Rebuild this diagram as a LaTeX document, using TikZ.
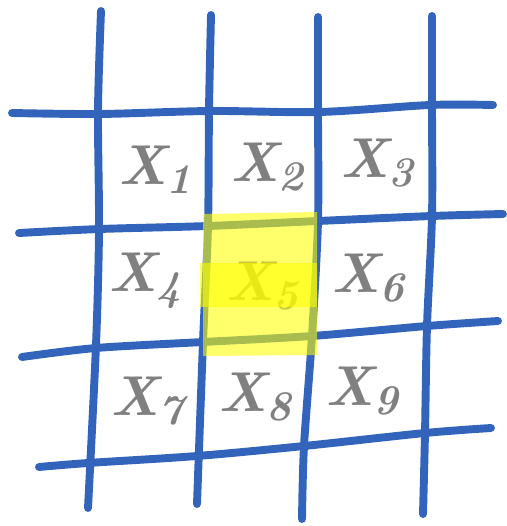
\documentclass[tikz,border=0pt]{standalone}
\usepackage{fontspec}
\usetikzlibrary{calc}
\definecolor{gridBlue}{HTML}{3164BA}
\definecolor{inkGrey}{HTML}{808080}
\definecolor{markYellow}{HTML}{FFFF00}
\tikzset{
  gridline/.style = {gridBlue, line width=4.5pt, line cap=round, line join=round},
  cell/.style     = {inkGrey, font=\fontsize{32}{32}\selectfont\bfseries\itshape},
  marker/.style   = {markYellow, opacity=0.58},
}
\newcommand{\cellsub}[1]{\raisebox{-0.35ex}{\fontsize{24}{24}\selectfont #1}}
\begin{document}
\begin{tikzpicture}[x=0.02cm, y=-0.02cm]
\useasboundingbox (0,0) rectangle (506,526);
% vertical strokes
\draw[gridline] plot[smooth] coordinates {(101,11) (98,110) (99,230) (96,345) (88,508)};
\draw[gridline] plot[smooth] coordinates {(211,15) (209,110) (208,226) (203,342) (197,504)};
\draw[gridline] plot[smooth] coordinates {(318,17) (318,112) (318,221) (312,336) (304,446) (302,519)};
\draw[gridline] plot[smooth] coordinates {(432,16) (432,105) (432,216) (427,326) (425,433) (423,514)};
% horizontal strokes
\draw[gridline] plot[smooth] coordinates {(12,113) (100,114) (210,111) (320,112) (430,105) (493,105)};
\draw[gridline] plot[smooth] coordinates {(19,233) (100,229) (208,226) (318,221) (432,216) (503,214)};
\draw[gridline] plot[smooth] coordinates {(22,357) (96,348) (203,342) (312,336) (427,326) (498,321)};
\draw[gridline] plot[smooth] coordinates {(39,467) (88,463) (197,456) (304,446) (425,433) (491,428)};
% cell labels
\node[cell] (x1) at (155,170) {X\cellsub{1}};
\node[cell] (x2) at (267,167) {X\cellsub{2}};
\node[cell] (x3) at (377,163) {X\cellsub{3}};
\node[cell] (x4) at (145,281) {X\cellsub{4}};
\node[cell] (x5) at (262,286) {X\cellsub{5}};
\node[cell] (x6) at (368,278) {X\cellsub{6}};
\node[cell] (x7) at (147,401) {X\cellsub{7}};
\node[cell] (x8) at (255,397) {X\cellsub{8}};
\node[cell] (x9) at (362,391) {X\cellsub{9}};
% highlighter over the middle cell
\fill[marker] (203,214) -- (317,212) -- (317,355) -- (203,356) -- cycle;
\fill[marker] (200,263) rectangle (317,307);
\end{tikzpicture}
\end{document}
